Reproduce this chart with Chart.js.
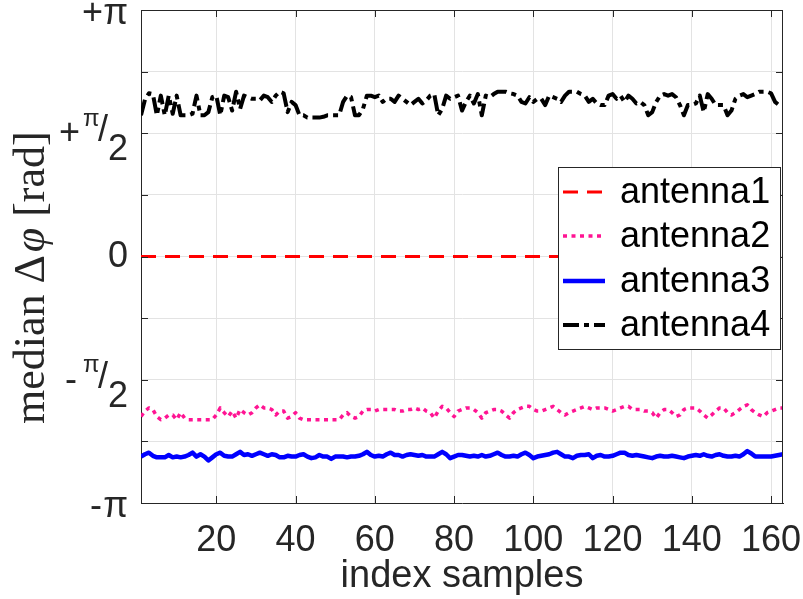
<!DOCTYPE html>
<html><head><meta charset="utf-8">
<script src="https://cdn.jsdelivr.net/npm/chart.js@4/dist/chart.umd.min.js"></script>
<style>html,body{margin:0;padding:0;background:#fff}</style>
</head><body>
<canvas id="c" width="803" height="599"></canvas>
<script>
// ---------- data ----------
const seriesNames = ['antenna1', 'antenna2', 'antenna3', 'antenna4'];
const sampleIndex = Array.from({length: 163}, (_, i) => i + 1);

const antenna1 = [
 0,0,0,0,0,0,0,0,0,0, 0,0,0,0,0,0,0,0,0,0, 0,0,0,0,0,0,0,0,0,0,
 0,0,0,0,0,0,0,0,0,0, 0,0,0,0,0,0,0,0,0,0, 0,0,0,0,0,0,0,0,0,0,
 0,0,0,0,0,0,0,0,0,0, 0,0,0,0,0,0,0,0,0,0, 0,0,0,0,0,0,0,0,0,0,
 0,0,0,0,0,0,0,0,0,0, 0,0,0,0,0,0,0,0,0,0, 0,0,0,0,0,0,0,0,0,0,
 0,0,0,0,0,0,0,0,0,0, 0,0,0,0,0,0,0,0,0,0, 0,0,0,0,0,0,0,0,0,0,
 0,0,0,0,0,0,0,0,0,0, 0,0,0
];
const antenna2 = [
 -2.04,-1.97,-1.93,-1.95,-2.04,-2.08,-2.06,-2.02,-2.02,-2.08,
 -1.99,-2.06,-2.08,-2.08,-2.08,-2.08,-2.08,-2.08,-2.08,-2.02,
 -1.93,-1.99,-2.04,-1.97,-2.06,-1.95,-1.99,-2.02,-1.99,-1.93,
 -1.89,-1.93,-1.93,-1.95,-2.02,-1.97,-1.97,-2.06,-2.04,-1.99,
 -2.06,-2.08,-2.08,-2.08,-2.08,-2.08,-2.08,-2.08,-2.08,-2.08,
 -2.08,-2.02,-1.99,-2.04,-2.06,-2.04,-1.97,-1.95,-1.95,-1.97,
 -1.95,-1.95,-1.95,-1.95,-1.95,-1.97,-1.97,-1.95,-1.95,-1.93,
 -1.95,-1.93,-1.97,-1.99,-2.06,-1.97,-1.91,-1.93,-1.99,-2.04,
 -1.97,-1.95,-1.93,-1.93,-1.95,-1.99,-2.06,-1.99,-1.97,-1.95,
 -1.95,-1.97,-2.02,-2.06,-1.99,-1.95,-1.93,-1.91,-1.91,-1.95,
 -1.97,-1.97,-1.95,-1.93,-1.91,-1.95,-1.99,-2.02,-1.99,-1.97,
 -1.95,-1.93,-1.91,-1.93,-1.95,-1.93,-1.93,-1.93,-1.95,-1.97,
 -1.95,-1.93,-1.91,-1.91,-1.95,-1.95,-1.95,-1.97,-1.97,-1.99,
 -2.06,-1.99,-1.95,-1.95,-1.99,-2.04,-2.02,-1.95,-1.93,-1.93,
 -1.93,-1.97,-2.02,-2.06,-2.02,-1.97,-1.93,-1.93,-1.99,-2.02,
 -1.99,-1.95,-1.91,-1.89,-1.95,-1.99,-2.02,-2.04,-1.99,-1.97,
 -1.95,-1.93,-1.93
];
const antenna3 = [
 -2.55,-2.52,-2.50,-2.54,-2.56,-2.56,-2.56,-2.53,-2.56,-2.55,
 -2.56,-2.55,-2.53,-2.50,-2.55,-2.52,-2.55,-2.60,-2.56,-2.52,
 -2.50,-2.54,-2.55,-2.55,-2.52,-2.49,-2.53,-2.52,-2.54,-2.52,
 -2.50,-2.52,-2.54,-2.52,-2.53,-2.56,-2.56,-2.54,-2.55,-2.55,
 -2.53,-2.52,-2.55,-2.57,-2.56,-2.53,-2.55,-2.55,-2.58,-2.55,
 -2.55,-2.55,-2.56,-2.55,-2.55,-2.54,-2.52,-2.49,-2.53,-2.55,
 -2.54,-2.55,-2.52,-2.50,-2.53,-2.53,-2.55,-2.53,-2.52,-2.53,
 -2.54,-2.53,-2.55,-2.55,-2.55,-2.52,-2.49,-2.52,-2.57,-2.55,
 -2.53,-2.53,-2.54,-2.55,-2.54,-2.55,-2.53,-2.55,-2.54,-2.52,
 -2.50,-2.53,-2.55,-2.55,-2.54,-2.55,-2.52,-2.50,-2.53,-2.57,
 -2.55,-2.54,-2.53,-2.52,-2.50,-2.49,-2.52,-2.55,-2.55,-2.57,
 -2.54,-2.53,-2.53,-2.52,-2.57,-2.54,-2.53,-2.55,-2.55,-2.54,
 -2.52,-2.50,-2.50,-2.53,-2.54,-2.53,-2.54,-2.55,-2.56,-2.57,
 -2.55,-2.54,-2.55,-2.55,-2.54,-2.55,-2.56,-2.57,-2.55,-2.54,
 -2.53,-2.54,-2.52,-2.54,-2.55,-2.53,-2.52,-2.54,-2.55,-2.55,
 -2.54,-2.55,-2.52,-2.48,-2.51,-2.55,-2.55,-2.55,-2.55,-2.55,
 -2.54,-2.53,-2.52
];
const antenna4 = [
 1.80,2.00,2.08,2.07,1.80,2.05,1.80,2.05,1.82,2.05,
 1.80,1.80,1.80,1.82,2.05,1.80,1.80,1.84,2.03,2.05,
 1.80,2.05,2.03,1.86,2.10,1.88,2.05,2.03,2.01,2.01,
 1.99,2.05,2.03,1.97,2.05,2.10,2.08,1.84,1.97,1.93,
 1.80,1.80,1.77,1.77,1.77,1.77,1.78,1.80,1.80,1.80,
 1.80,1.97,2.05,2.03,1.80,1.80,1.88,2.05,2.05,2.03,
 2.05,1.97,2.01,2.01,1.97,2.05,2.01,1.97,1.93,1.97,
 2.01,1.95,1.99,2.05,2.07,1.80,1.88,2.05,2.01,2.03,
 2.05,1.86,1.97,2.05,1.95,2.07,1.80,2.05,2.03,2.07,
 2.10,2.10,2.10,2.08,2.07,2.05,1.97,1.95,2.03,1.97,
 2.01,2.01,1.93,2.05,2.03,2.01,1.97,2.05,2.10,2.10,
 2.10,2.07,2.05,1.97,2.01,1.95,1.93,1.93,2.05,2.07,
 2.01,2.05,1.97,2.05,2.01,1.95,1.97,1.93,1.80,1.84,
 1.97,2.05,2.07,2.05,2.07,2.03,1.93,1.80,1.93,1.93,
 1.95,2.05,1.84,2.07,2.01,1.93,1.93,1.93,1.80,1.86,
 2.01,2.05,2.07,2.03,2.05,2.07,2.10,2.10,2.10,2.08,
 1.97,1.93,1.93
];

const xTickValues = [20, 40, 60, 80, 100, 120, 140, 160];
const xTickLabels = ['20', '40', '60', '80', '100', '120', '140', '160'];
const yTickValues = [-Math.PI, -3*Math.PI/4, -Math.PI/2, -Math.PI/4, 0, Math.PI/4, Math.PI/2, 3*Math.PI/4, Math.PI];
const yTickLabels = ['-π', '', '-π/2', '', '0', '', '+π/2', '', '+π'];

// ---------- styles ----------
const styles = [
  {color: '#ff0000', width: 3, dash: [15, 9]},
  {color: '#ff1493', width: 3.5, dash: [4, 4.5]},
  {color: '#0000ff', width: 4.5, dash: []},
  {color: '#000000', width: 4, dash: [16, 5, 5, 5]}
];
const seriesData = [antenna1, antenna2, antenna3, antenna4];
const AXIS = '#262626';
const SANS = '"Liberation Sans", Arial, Helvetica, sans-serif';
const SERIF = '"Liberation Serif", "DejaVu Serif", serif';

const decor = {
  id: 'decor',
  beforeDraw(chart) {
    const c = chart.ctx;
    c.save(); c.fillStyle = '#fff'; c.fillRect(0, 0, chart.width, chart.height); c.restore();
  },
  afterDraw(chart) {
    const c = chart.ctx, a = chart.chartArea;
    const xs = chart.scales.x, ys = chart.scales.y;
    c.save();
    // box
    c.strokeStyle = AXIS; c.lineWidth = 1;
    c.beginPath();
    c.moveTo(a.left, a.top + 0.5); c.lineTo(a.right, a.top + 0.5);
    c.moveTo(a.right - 0.5, a.top); c.lineTo(a.right - 0.5, a.bottom);
    c.stroke();
    // inward tick marks
    const tl = 7;
    c.beginPath();
    yTickValues.forEach(v => {
      const y = Math.round(ys.getPixelForValue(v)) + 0.5;
      c.moveTo(a.left, y); c.lineTo(a.left + tl, y);
      c.moveTo(a.right, y); c.lineTo(a.right - tl, y);
    });
    xTickValues.forEach(v => {
      const x = Math.round(xs.getPixelForValue(v)) + 0.5;
      c.moveTo(x, a.bottom); c.lineTo(x, a.bottom - tl);
      c.moveTo(x, a.top); c.lineTo(x, a.top + tl);
    });
    c.stroke();

    // y tick labels
    c.fillStyle = AXIS;
    c.textBaseline = 'middle';
    yTickValues.forEach((v, i) => {
      const lab = yTickLabels[i];
      if (!lab) return;
      const y = ys.getPixelForValue(v);
      c.font = '36px ' + SANS;
      c.textAlign = 'right';
      if (lab.indexOf('/') >= 0) {
        c.fillText(lab[0], lab[0] === '+' ? 80 : 77, y + 1);
        c.font = '24px ' + SANS;
        c.textAlign = 'left';
        c.fillText('π', 83, y - 14);
        c.font = '36px ' + SANS;
        c.textAlign = 'right';
        c.fillText('/', 108, y - 2);
        c.fillText('2', 128, y + 17);
      } else if (lab.length === 2) {
        c.fillText(lab[0], lab[0] === '+' ? 103 : 102, y + 4);
        c.fillText(lab[1], 128, y + 4);
      } else {
        c.fillText(lab, 128, y + 1);
      }
    });

    // y axis title
    c.save();
    c.translate(44, 424);
    c.rotate(-Math.PI / 2);
    c.textAlign = 'left'; c.textBaseline = 'alphabetic';
    c.fillStyle = '#262626';
    let x = 0;
    const parts = [['median Δ', '44px ' + SERIF], ['φ', 'italic 44px ' + SERIF], [' [rad]', '44px ' + SERIF]];
    parts.forEach(p => {
      c.font = p[1]; c.fillText(p[0], x, 0); x += c.measureText(p[0]).width;
      if (p[0] === 'median Δ') x += 3;
    });
    c.restore();

    // legend
    const lx = 558, ly = 167, lw = 222, lh = 182;
    c.fillStyle = '#fff';
    c.fillRect(lx, ly, lw, lh);
    c.strokeStyle = AXIS; c.lineWidth = 1;
    c.strokeRect(lx + 0.5, ly + 0.5, lw, lh);
    const rows = [192, 236, 281, 325];
    seriesNames.forEach((name, i) => {
      const s = styles[i];
      c.strokeStyle = s.color; c.lineWidth = s.width; c.setLineDash(s.dash);
      c.lineCap = 'butt';
      c.beginPath(); c.moveTo(563, rows[i]); c.lineTo(605, rows[i]); c.stroke();
      c.setLineDash([]);
      c.fillStyle = '#000';
      c.font = '36px ' + SANS;
      c.textAlign = 'left'; c.textBaseline = 'middle';
      c.fillText(name, 620, rows[i] + 1);
    });
    c.restore();
  }
};

new Chart(document.getElementById('c'), {
  type: 'line',
  data: {
    labels: sampleIndex,
    datasets: seriesNames.map((n, i) => ({
      label: n,
      data: seriesData[i],
      borderColor: styles[i].color,
      borderWidth: styles[i].width,
      borderDash: styles[i].dash,
      borderCapStyle: 'butt',
      borderJoinStyle: 'round',
      pointRadius: 0,
      tension: 0,
      fill: false
    }))
  },
  options: {
    responsive: false,
    animation: false,
    events: [],
    layout: {padding: {top: 10, right: 20, bottom: 0, left: 0}},
    plugins: {legend: {display: false}, tooltip: {enabled: false}},
    scales: {
      x: {
        type: 'linear', min: 1, max: 163,
        afterBuildTicks: s => { s.ticks = xTickValues.map(v => ({value: v})); },
        afterFit: s => { s.height = 96; s.paddingLeft = 0; s.paddingRight = 0; },
        ticks: {
          autoSkip: false, maxRotation: 0, padding: 16, color: AXIS,
          font: {family: SANS, size: 36},
          callback: v => xTickLabels[xTickValues.indexOf(v)]
        },
        grid: {color: '#e3e3e3', lineWidth: 1, drawTicks: false},
        border: {display: true, color: AXIS, width: 1},
        title: {display: true, text: 'index samples', color: AXIS, font: {family: SANS, size: 38}, padding: {top: 0, bottom: 0}}
      },
      y: {
        min: -Math.PI, max: Math.PI,
        afterBuildTicks: s => { s.ticks = yTickValues.map(v => ({value: v})); },
        afterFit: s => { s.width = 141; s.paddingTop = 0; s.paddingBottom = 0; },
        ticks: {display: false},
        grid: {color: '#e3e3e3', lineWidth: 1, drawTicks: false},
        border: {display: true, color: AXIS, width: 1}
      }
    }
  },
  plugins: [decor]
});
</script>
</body></html>
